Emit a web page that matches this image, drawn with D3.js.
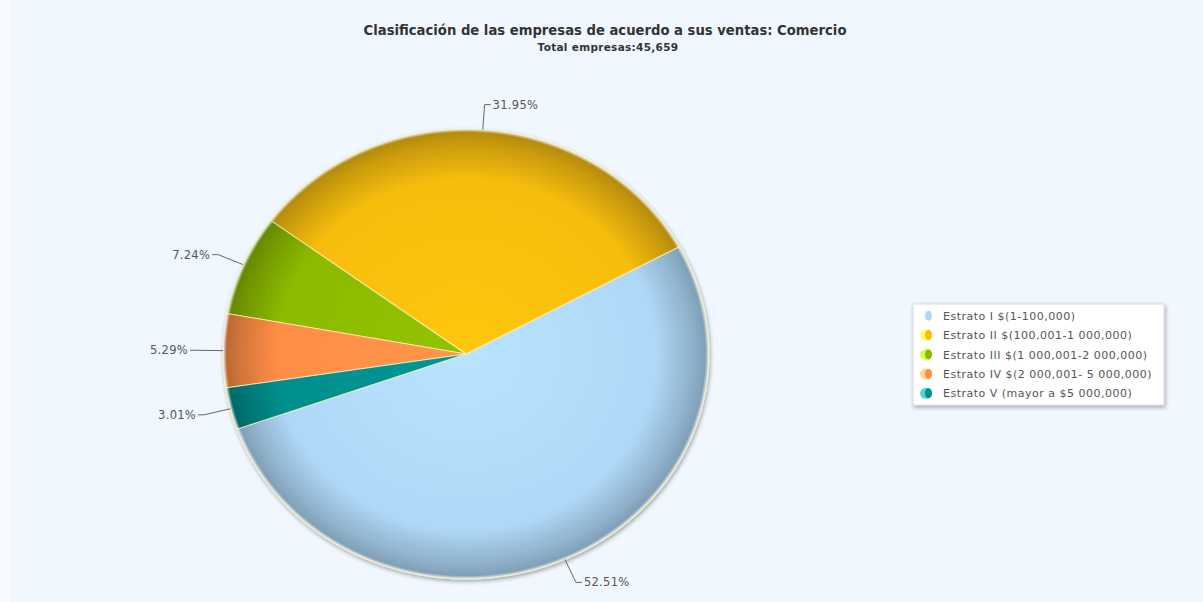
<!DOCTYPE html>
<html>
<head>
<meta charset="utf-8">
<script src="https://cdn.jsdelivr.net/npm/d3@7"></script>
<style>
  body { margin: 0; background: #f1f7fe; }
  svg { display: block; }
</style>
</head>
<body>
<div id="chart-container"></div>
<script>
// Datos: clasificación de las empresas por estrato de ventas (Comercio)
const categorias = [
    "Estrato I $(1-100,000)",
    "Estrato II $(100,001-1 000,000)",
    "Estrato III $(1 000,001-2 000,000)",
    "Estrato IV $(2 000,001- 5 000,000)",
    "Estrato V (mayor a $5 000,000)"
];
const porcentajes = [52.51, 31.95, 7.24, 5.29, 3.01];
const colores = ["#AFD8F8", "#F6BD0F", "#8BBA00", "#FF8E46", "#008E8E"];
const titulo = "Clasificación de las empresas de acuerdo a sus ventas: Comercio";
const subtitulo = "Total empresas:45,659";

const data = categorias.map((c, i) => ({ categoria: c, valor: porcentajes[i], color: colores[i] }));

// Configuración
const width = 1203;
const height = 602;
const cx = 466, cy = 354;
const radius = 225;
const stretchX = 243 / 225; // el pastel se ve un poco estirado en horizontal
const inicio = 250.5 * Math.PI / 180; // las rebanadas van en sentido antihorario

const svg = d3.select("#chart-container")
    .append("svg")
    .attr("width", width)
    .attr("height", height);

const defs = svg.append("defs");

// fondo
svg.append("rect").attr("width", width).attr("height", height).attr("fill", "#f1f7fe");
svg.append("rect").attr("width", 10).attr("height", height).attr("fill", "#f7fafe");

// Títulos
svg.append("text")
    .attr("x", 605).attr("y", 35)
    .attr("text-anchor", "middle")
    .attr("font-family", "DejaVu Sans, Verdana, sans-serif")
    .attr("font-weight", "bold")
    .attr("font-size", "13.2px")
    .attr("fill", "#333")
    .text(titulo);

svg.append("text")
    .attr("x", 608).attr("y", 51)
    .attr("text-anchor", "middle")
    .attr("font-family", "DejaVu Sans, Verdana, sans-serif")
    .attr("font-weight", "bold")
    .attr("font-size", "10.5px")
    .attr("letter-spacing", "0.3px")
    .attr("fill", "#333")
    .text(subtitulo);

// Degradados radiales para el efecto 3D de cada rebanada
data.forEach((d, i) => {
    const g = defs.append("radialGradient")
        .attr("id", "grad" + i)
        .attr("gradientUnits", "userSpaceOnUse")
        .attr("cx", 0).attr("cy", 0).attr("r", radius);
    const base = d3.color(d.color);
    g.append("stop").attr("offset", "0%").attr("stop-color", base.brighter(0.15));
    g.append("stop").attr("offset", "78%").attr("stop-color", base);
    g.append("stop").attr("offset", "93%").attr("stop-color", base.darker(0.55));
    g.append("stop").attr("offset", "98.5%").attr("stop-color", base.darker(0.85));
    g.append("stop").attr("offset", "100%").attr("stop-color", "#e8eef4");
});

const shadow = defs.append("filter").attr("id", "sombra")
    .attr("x", "-10%").attr("y", "-10%").attr("width", "120%").attr("height", "120%");
shadow.append("feGaussianBlur").attr("in", "SourceAlpha").attr("stdDeviation", 2);
shadow.append("feOffset").attr("dx", 1).attr("dy", 2).attr("result", "b");
shadow.append("feComponentTransfer").append("feFuncA").attr("type", "linear").attr("slope", 0.35);
const merge = shadow.append("feMerge");
merge.append("feMergeNode");
merge.append("feMergeNode").attr("in", "SourceGraphic");

// Pastel
const pie = d3.pie()
    .value(d => d.valor)
    .sort(null)
    .startAngle(inicio)
    .endAngle(inicio - 2 * Math.PI);

const arc = d3.arc().innerRadius(0).outerRadius(radius);
const arcs = pie(data);

const pieG = svg.append("g")
    .attr("transform", `translate(${cx},${cy}) scale(${stretchX},1)`)
    .attr("filter", "url(#sombra)");

pieG.selectAll("path")
    .data(arcs)
    .enter()
    .append("path")
    .attr("d", arc)
    .attr("fill", (d, i) => `url(#grad${i})`)
    .attr("stroke", "#fbf1b8")
    .attr("stroke-opacity", 0.8)
    .attr("stroke-width", 1);

// Etiquetas con líneas guía
const labelG = svg.append("g");
arcs.forEach(d => {
    const a = (d.startAngle + d.endAngle) / 2;
    const sx = Math.sin(a), sy = -Math.cos(a);
    const p0 = [cx + sx * radius * stretchX, cy + sy * radius];
    const p1 = [cx + sx * (radius + 25) * stretchX, cy + sy * (radius + 25)];
    const dir = sx >= 0 ? 1 : -1;
    const p2 = [p1[0] + dir * 6, p1[1]];
    labelG.append("polyline")
        .attr("points", [p0, p1, p2].map(p => p.join(",")).join(" "))
        .attr("fill", "none")
        .attr("stroke", "#666")
        .attr("stroke-width", 1);
    labelG.append("text")
        .attr("x", p2[0] + dir * 2)
        .attr("y", p2[1] + 4)
        .attr("text-anchor", dir > 0 ? "start" : "end")
        .attr("font-family", "DejaVu Sans, Verdana, sans-serif")
        .attr("font-size", "11.5px")
        .attr("letter-spacing", "0.3px")
        .attr("fill", "#555")
        .text(d.data.valor.toFixed(2) + "%");
});

// Leyenda
const legend = svg.append("g").attr("transform", "translate(913,304)");
legend.append("rect")
    .attr("width", 251).attr("height", 101)
    .attr("fill", "#fff")
    .attr("stroke", "#d8dde3")
    .attr("filter", "url(#sombra)");

const y = d3.scaleBand()
    .domain(categorias)
    .range([2, 99]);

const item = legend.selectAll(".item")
    .data(data)
    .enter()
    .append("g")
    .attr("class", "item")
    .attr("transform", d => `translate(0,${y(d.categoria) + y.bandwidth() / 2})`);

item.append("ellipse")
    .attr("cx", 13).attr("cy", 0).attr("rx", 6).attr("ry", 5.5)
    .attr("fill", d => d3.color(d.color).brighter(0.9))
    .attr("opacity", 0.7);
item.append("ellipse")
    .attr("cx", 15.5).attr("cy", 0).attr("rx", 3.5).attr("ry", 5)
    .attr("fill", d => d.color);

item.append("text")
    .attr("x", 30).attr("y", 4)
    .attr("font-family", "DejaVu Sans, Verdana, sans-serif")
    .attr("font-size", "11px")
    .attr("letter-spacing", "0.5px")
    .attr("fill", "#555")
    .text(d => d.categoria);
</script>
</body>
</html>
